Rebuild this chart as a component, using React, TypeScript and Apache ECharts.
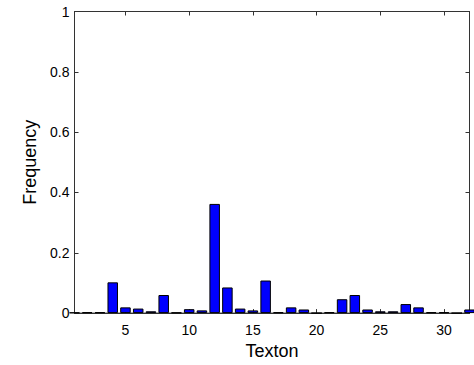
import React, { useEffect, useRef } from "react";
import * as echarts from "echarts";

const textons = [1,2,3,4,5,6,7,8,9,10,11,12,13,14,15,16,17,18,19,20,21,22,23,24,25,26,27,28,29,30,31,32];
const frequencies = [0.002,0.003,0.003,0.102,0.019,0.015,0.006,0.06,0.002,0.013,0.009,0.362,0.085,0.015,0.009,0.108,0.003,0.019,0.012,0,0.003,0.046,0.06,0.012,0.006,0.006,0.03,0.019,0.003,0.003,0,0.012];
const xTicks = [5,10,15,20,25,30];

export default function App() {
  const ref = useRef<HTMLDivElement>(null);
  useEffect(() => {
    const chart = echarts.init(ref.current!, null, { renderer: "svg" });
    const font = "Liberation Sans";
    const axisLine = { show: true, onZero: false, lineStyle: { color: "#333", width: 1 } };
    const tick = { show: true, inside: true, length: 4, lineStyle: { color: "#333", width: 1 } };
    chart.setOption({
      animation: false,
      grid: { left: 74.5, right: 4.5, top: 11.5, bottom: 49.5, containLabel: false, show: true,
        borderColor: "#333", borderWidth: 1, backgroundColor: "transparent" },
      xAxis: [
        {
          type: "value", min: 1, max: 32, position: "bottom",
          name: "Texton", nameLocation: "middle", nameGap: 27,
          nameTextStyle: { fontFamily: font, fontSize: 18, color: "#000" },
          axisLine, splitLine: { show: false },
          axisTick: { ...tick, customValues: xTicks },
          axisLabel: { customValues: xTicks, fontFamily: font, fontSize: 14, color: "#000", margin: 10 },
        },
        {
          type: "value", min: 1, max: 32, position: "top",
          axisLine, splitLine: { show: false },
          axisTick: { ...tick, customValues: xTicks },
          axisLabel: { show: false, customValues: xTicks },
        },
      ],
      yAxis: [
        {
          type: "value", min: 0, max: 1, interval: 0.2, position: "left",
          name: "Frequency", nameLocation: "middle", nameGap: 32,
          nameTextStyle: { fontFamily: font, fontSize: 18, color: "#000" },
          axisLine, splitLine: { show: false }, axisTick: tick,
          axisLabel: { fontFamily: font, fontSize: 14, color: "#000", margin: 5,
            formatter: (v: number) => String(Math.round(v * 10) / 10) },
        },
        {
          type: "value", min: 0, max: 1, interval: 0.2, position: "right",
          axisLine, splitLine: { show: false }, axisTick: tick,
          axisLabel: { show: false },
        },
      ],
      series: [
        {
          type: "bar",
          xAxisIndex: 0, yAxisIndex: 0,
          data: textons.map((t, i) => [t, frequencies[i]]),
          barWidth: 10.5,
          clip: true,
          itemStyle: { color: "#0000ff", borderColor: "#000", borderWidth: 1 },
        },
      ],
    });
    return () => chart.dispose();
  }, []);
  return <div ref={ref} style={{ width: 474, height: 365, position: "absolute", left: 0, top: 0, background: "#fff" }} />;
}
